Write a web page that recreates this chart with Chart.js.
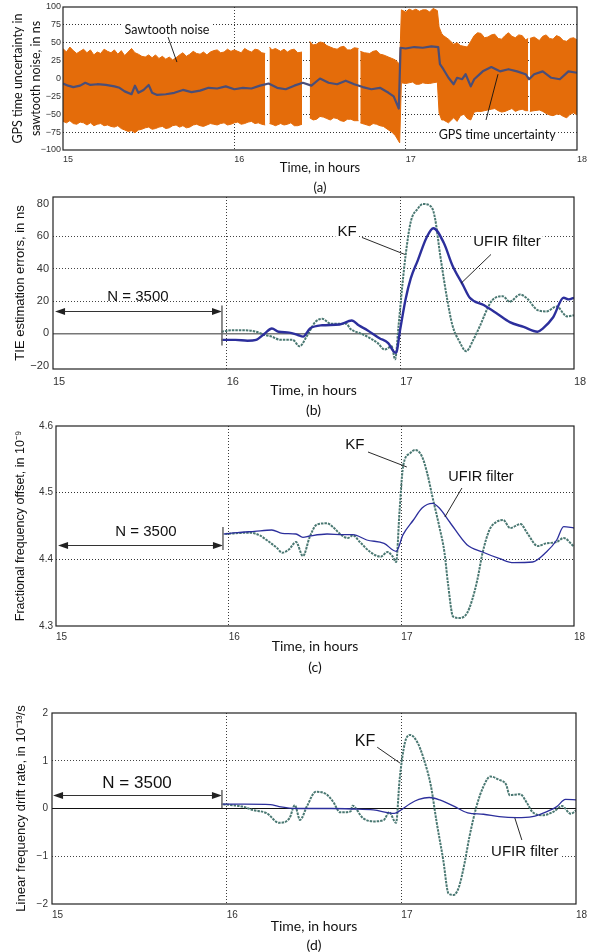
<!DOCTYPE html>
<html>
<head>
<meta charset="utf-8">
<script src="https://cdn.jsdelivr.net/npm/chart.js@4.4.1/dist/chart.umd.min.js"></script>
<style>
  html, body { margin: 0; padding: 0; background: #fff; }
  #wrap { position: relative; width: 590px; height: 952px; overflow: hidden; }
  #wrap canvas { position: absolute; left: 0; top: 0; }
</style>
</head>
<body>
<div id="wrap">
  <canvas id="chartA" width="590" height="952"></canvas>
  <canvas id="chartB" width="590" height="952"></canvas>
  <canvas id="chartC" width="590" height="952"></canvas>
  <canvas id="chartD" width="590" height="952"></canvas>
</div>
<script>
// ---- tick labels ----
const xTicks = [15, 16, 17, 18];
const aYTicks = [-100, -75, -50, -25, 0, 25, 50, 75, 100];
const bYTicks = [-20, 0, 20, 40, 60, 80];
const cYTicks = [4.3, 4.4, 4.5, 4.6];
const dYTicks = [-2, -1, 0, 1, 2];

// ---- (a) sawtooth noise envelope and GPS time uncertainty, ns ----
const aBandT  = [15.00, 15.02, 15.04, 15.06, 15.08, 15.10, 15.12, 15.14, 15.16, 15.18, 15.20, 15.22, 15.24, 15.26, 15.28, 15.30, 15.32, 15.34, 15.36, 15.38, 15.40, 15.42, 15.44, 15.46, 15.48, 15.50, 15.52, 15.54, 15.56, 15.58, 15.60, 15.62, 15.64, 15.66, 15.68, 15.70, 15.72, 15.74, 15.76, 15.78, 15.80, 15.82, 15.84, 15.86, 15.88, 15.90, 15.92, 15.94, 15.96, 15.98, 16.00, 16.02, 16.04, 16.06, 16.08, 16.10, 16.12, 16.14, 16.16, 16.18, 16.195, 16.205, 16.22, 16.24, 16.27, 16.29, 16.31, 16.33, 16.35, 16.37, 16.395, 16.42, 16.44, 16.46, 16.48, 16.50, 16.52, 16.54, 16.56, 16.58, 16.60, 16.62, 16.64, 16.66, 16.68, 16.70, 16.725, 16.73, 16.735, 16.76, 16.79, 16.81, 16.83, 16.85, 16.87, 16.90, 16.92, 16.94, 16.965, 16.975, 17.00, 17.02, 17.04, 17.06, 17.08, 17.10, 17.12, 17.14, 17.16, 17.185, 17.195, 17.21, 17.22, 17.25, 17.28, 17.30, 17.32, 17.34, 17.36, 17.38, 17.40, 17.42, 17.44, 17.46, 17.48, 17.50, 17.52, 17.54, 17.56, 17.58, 17.60, 17.62, 17.64, 17.66, 17.68, 17.70, 17.715, 17.72, 17.725, 17.75, 17.78, 17.80, 17.82, 17.84, 17.86, 17.88, 17.90, 17.92, 17.94, 17.96, 17.98, 18.00];
const aBandHi = [42, 37, 44, 39, 35, 38, 41, 36, 40, 33, 37, 35, 41, 38, 36, 40, 34, 39, 32, 37, 42, 36, 34, 31, 30, 33, 29, 33, 28, 31, 27, 30, 26, 29, 33, 36, 31, 34, 38, 35, 34, 37, 33, 37, 39, 40, 36, 37, 41, 38, 40, 38, 36, 42, 39, 37, 41, 40, 36, 35, null, 44, 40, 42, 38, 41, 37, 40, 41, 36, 37, null, 52, 47, 48, 51, 50, 46, 44, 42, 41, 44, 45, 40, 40, 43, 42, null, 38, 36, 35, 38, 39, 34, 33, 30, 28, 26, 20, 96, 93, 97, 95, 97, 94, 96, 96, 93, 98, 95, 72, 63, 60, 55, 48, 50, 46, 45, 44, 52, 60, 64, 63, 57, 58, 61, 62, 56, 55, 60, 64, 59, 57, 61, 60, 54, 56, null, 56, 58, 53, 59, 61, 56, 55, 60, 58, 53, 52, 56, 57, 54];
const aBandLo = [-60, -62, -59, -63, -64, -61, -62, -65, -62, -66, -64, -63, -66, -65, -67, -68, -66, -70, -72, -74, -73, -76, -72, -71, -69, -68, -71, -70, -68, -67, -70, -69, -66, -65, -68, -66, -69, -68, -65, -64, -66, -67, -65, -63, -64, -65, -63, -62, -65, -64, -62, -61, -64, -63, -61, -60, -63, -62, -64, -65, null, -63, -64, -66, -63, -65, -64, -62, -66, -66, -64, null, -55, -58, -57, -53, -54, -56, -58, -55, -56, -59, -60, -57, -57, -59, -59, null, -62, -64, -66, -63, -64, -66, -67, -72, -75, -80, -90, -6, -7, -6, -5, -8, -8, -6, -7, -7, -6, -5, -48, -58, -58, -62, -55, -60, -52, -50, -56, -58, -47, -46, -46, -45, -44, -43, -42, -45, -47, -46, -44, -42, -46, -44, -43, -45, -45, null, -46, -45, -44, -46, -49, -51, -52, -50, -50, -53, -55, -50, -48, -51];
const aMeanT = [15.00, 15.03, 15.06, 15.10, 15.13, 15.16, 15.20, 15.25, 15.30, 15.33, 15.36, 15.40, 15.42, 15.44, 15.47, 15.50, 15.52, 15.55, 15.60, 15.65, 15.70, 15.75, 15.80, 15.85, 15.90, 15.95, 16.00, 16.05, 16.10, 16.15, 16.20, 16.25, 16.30, 16.35, 16.40, 16.45, 16.50, 16.55, 16.60, 16.65, 16.70, 16.75, 16.80, 16.85, 16.90, 16.93, 16.96, 16.97, 17.00, 17.05, 17.10, 17.15, 17.19, 17.20, 17.22, 17.25, 17.28, 17.30, 17.33, 17.35, 17.38, 17.40, 17.45, 17.50, 17.55, 17.60, 17.65, 17.70, 17.72, 17.75, 17.80, 17.85, 17.90, 17.95, 18.00];
const aMean  = [-7, -10, -12, -10, -6, -9, -8, -9, -11, -13, -18, -22, -10, -20, -16, -9, -20, -23, -22, -20, -16, -19, -17, -13, -14, -11, -15, -13, -14, -10, -7, -13, -15, -10, -6, -10, 0, -6, -8, -3, -8, -12, -15, -13, -20, -25, -42, 43, 42, 44, 43, 45, 44, 20, 13, 1, -8, 1, -1, 6, -11, -1, 10, 16, 10, 13, 10, 6, -1, 6, 10, 1, -1, 10, 8];

// ---- (b) TIE estimation errors, ns ----
const bUfirT = [15.97, 16.05, 16.12, 16.17, 16.22, 16.26, 16.30, 16.36, 16.41, 16.44, 16.48, 16.55, 16.65, 16.72, 16.76, 16.81, 16.88, 16.93, 16.96, 16.975, 17.00, 17.03, 17.06, 17.10, 17.15, 17.19, 17.25, 17.30, 17.36, 17.40, 17.48, 17.56, 17.63, 17.71, 17.79, 17.82, 17.88, 17.94, 17.97, 18.00];
const bUfir  = [-4, -4, -4.5, -4, 0, 3, 1, 0.5, -1, -2, 3, 5, 5.5, 8, 5, 2, -3, -6, -11, -12, 3, 21, 34, 45, 59, 65, 56, 42, 30, 22, 17.5, 12, 7, 4, 1, 3, 10, 22, 21, 22];
const bKfT = [15.97, 16.03, 16.10, 16.17, 16.22, 16.26, 16.31, 16.38, 16.42, 16.46, 16.51, 16.55, 16.60, 16.69, 16.71, 16.77, 16.81, 16.87, 16.91, 16.95, 16.97, 16.99, 17.01, 17.03, 17.06, 17.10, 17.13, 17.18, 17.20, 17.23, 17.27, 17.30, 17.34, 17.38, 17.42, 17.46, 17.50, 17.53, 17.59, 17.63, 17.69, 17.73, 17.79, 17.84, 17.90, 17.96, 18.00];
const bKf  = [1, 2, 2, 1, -1, -2, -4, -4, -8, -2, 7, 9, 6, 6, 3, 0, -2, -6, -10, -8, -16, 5, 28, 48, 69, 77, 80, 78, 71, 48, 21, 5, -5, -11, -4, 5, 15, 20.6, 23, 19.6, 24, 21.6, 14.4, 13.6, 16.6, 10.5, 11.3];

// ---- (c) fractional frequency offset, 1e-9 ----
const cUfirT = [15.97, 16.05, 16.15, 16.25, 16.31, 16.39, 16.43, 16.47, 16.57, 16.66, 16.72, 16.80, 16.90, 16.97, 17.01, 17.07, 17.12, 17.18, 17.22, 17.28, 17.38, 17.47, 17.57, 17.65, 17.76, 17.84, 17.90, 17.94, 18.00];
const cUfir  = [4.438, 4.440, 4.442, 4.444, 4.439, 4.438, 4.433, 4.435, 4.438, 4.437, 4.437, 4.429, 4.424, 4.412, 4.437, 4.459, 4.477, 4.484, 4.477, 4.456, 4.422, 4.411, 4.401, 4.395, 4.396, 4.411, 4.429, 4.449, 4.447];
const cKfT = [15.98, 16.12, 16.18, 16.22, 16.28, 16.31, 16.35, 16.39, 16.43, 16.47, 16.51, 16.57, 16.61, 16.65, 16.69, 16.72, 16.76, 16.82, 16.88, 16.92, 16.95, 16.97, 16.99, 17.01, 17.05, 17.08, 17.12, 17.15, 17.18, 17.22, 17.25, 17.27, 17.30, 17.34, 17.38, 17.41, 17.44, 17.47, 17.51, 17.55, 17.59, 17.63, 17.69, 17.73, 17.79, 17.84, 17.90, 17.94, 18.00];
const cKf  = [4.438, 4.440, 4.436, 4.429, 4.417, 4.410, 4.415, 4.426, 4.405, 4.434, 4.452, 4.454, 4.447, 4.437, 4.432, 4.436, 4.426, 4.411, 4.404, 4.411, 4.404, 4.396, 4.474, 4.539, 4.559, 4.564, 4.554, 4.529, 4.494, 4.449, 4.410, 4.364, 4.314, 4.312, 4.319, 4.339, 4.369, 4.409, 4.444, 4.456, 4.459, 4.447, 4.453, 4.439, 4.420, 4.424, 4.426, 4.432, 4.419];

// ---- (d) linear frequency drift rate, 1e-13/s ----
const dUfirT = [15.97, 16.10, 16.25, 16.30, 16.40, 16.60, 16.72, 16.84, 16.96, 16.99, 17.05, 17.10, 17.16, 17.22, 17.30, 17.38, 17.47, 17.56, 17.66, 17.75, 17.83, 17.89, 17.94, 18.00];
const dUfir  = [0.09, 0.09, 0.08, 0.04, 0.0, 0.0, -0.01, -0.03, -0.10, -0.05, 0.10, 0.19, 0.23, 0.18, 0.05, -0.09, -0.12, -0.17, -0.19, -0.17, -0.07, 0.04, 0.19, 0.18];
const dKfT = [15.98, 16.09, 16.15, 16.23, 16.30, 16.36, 16.39, 16.42, 16.46, 16.51, 16.57, 16.61, 16.65, 16.71, 16.72, 16.78, 16.84, 16.90, 16.93, 16.97, 16.99, 17.02, 17.05, 17.09, 17.13, 17.17, 17.20, 17.24, 17.27, 17.30, 17.33, 17.36, 17.39, 17.43, 17.47, 17.51, 17.56, 17.60, 17.62, 17.68, 17.72, 17.75, 17.81, 17.87, 17.92, 17.97, 18.00];
const dKf  = [0.09, 0.04, -0.03, -0.10, -0.30, -0.20, 0.07, -0.24, 0.05, 0.35, 0.30, 0.14, -0.08, -0.06, 0.06, -0.20, -0.27, -0.24, -0.08, -0.30, 0.60, 1.37, 1.54, 1.40, 1.02, 0.46, -0.24, -1.08, -1.78, -1.81, -1.64, -1.18, -0.59, 0.04, 0.46, 0.67, 0.60, 0.50, 0.28, 0.30, 0.11, -0.07, -0.14, -0.07, 0.05, -0.11, -0.04];

// ---- colours ----
const ORANGE = '#e46c0a';
const SLATE = '#4a4e78';
const UFIR = '#2c2f9c';
const KF = '#4a7872';

const W = 590, H = 952;
const toPts = (xs, ys) => xs.map((x, i) => ({ x: x, y: ys[i] }));
const minus = v => String(v).replace('-', '\u2212');
const tv = c => (c.tick ? c.tick.value : null);
const CLEAR = 'rgba(0,0,0,0)';

// Frame, labels, leader lines and the N = 3500 span arrow
const marksPlugin = {
  id: 'marks',
  afterDatasetsDraw(chart, args, opts) {
    const { ctx, chartArea: a, scales: { x, y } } = chart;
    ctx.save();

    if (opts.span) {
      const s = opts.span;
      const x1 = x.getPixelForValue(s.t1), x2 = x.getPixelForValue(s.t2);
      const yy = Math.round(y.getPixelForValue(s.v)) + 0.5;
      ctx.strokeStyle = '#333';
      ctx.fillStyle = '#222';
      ctx.lineWidth = 1;
      ctx.beginPath(); ctx.moveTo(x1 + 4, yy); ctx.lineTo(x2 - 4, yy); ctx.stroke();
      [[x1, 1], [x2, -1]].forEach(([px, dir]) => {
        ctx.beginPath();
        ctx.moveTo(px, yy);
        ctx.lineTo(px + dir * 10, yy - 3.5);
        ctx.lineTo(px + dir * 10, yy + 3.5);
        ctx.closePath();
        ctx.fill();
      });
      ctx.strokeStyle = '#666';
      ctx.lineWidth = 1.5;
      ctx.beginPath();
      ctx.moveTo(x2, y.getPixelForValue(s.barTop));
      ctx.lineTo(x2, y.getPixelForValue(s.barBottom));
      ctx.stroke();
    }

    ctx.strokeStyle = '#111';
    ctx.lineWidth = 0.9;
    (opts.leaders || []).forEach(([t1, v1, t2, v2]) => {
      ctx.beginPath();
      ctx.moveTo(x.getPixelForValue(t1), y.getPixelForValue(v1));
      ctx.lineTo(x.getPixelForValue(t2), y.getPixelForValue(v2));
      ctx.stroke();
    });

    (opts.notes || []).forEach(n => {
      const px = x.getPixelForValue(n.t), py = y.getPixelForValue(n.v);
      ctx.font = n.font;
      ctx.textAlign = 'center';
      ctx.textBaseline = 'middle';
      if (n.bg) {
        const w = ctx.measureText(n.text).width;
        ctx.fillStyle = '#fff';
        ctx.fillRect(px - w / 2 - 2, py - n.h / 2, w + 4, n.h);
      }
      ctx.fillStyle = '#111';
      ctx.fillText(n.text, px, py);
    });

    ctx.strokeStyle = '#222';
    ctx.lineWidth = 1.2;
    ctx.strokeRect(a.left, a.top, a.right - a.left, a.bottom - a.top);
    ctx.restore();
  }
};

function makePanel(id, p) {
  const box = p.box;
  return new Chart(document.getElementById(id), {
    type: 'line',
    data: { datasets: p.datasets },
    plugins: [marksPlugin],
    options: {
      responsive: false,
      animation: false,
      events: [],
      layout: { padding: { left: 0, top: box.top, right: W - box.right, bottom: H - box.bottom - p.xH } },
      plugins: { legend: { display: false }, tooltip: { enabled: false }, marks: p.marks },
      elements: { point: { radius: 0 }, line: { borderJoinStyle: 'round', borderCapStyle: 'butt' } },
      scales: {
        x: {
          type: 'linear', min: 15, max: 18,
          afterBuildTicks: s => { s.ticks = xTicks.map(v => ({ value: v })); },
          afterFit: s => { s.height = p.xH; s.paddingLeft = 0; s.paddingRight = 0; },
          grid: { drawTicks: false, color: c => (tv(c) === 15 || tv(c) === 18) ? CLEAR : '#3a3a3a' },
          border: { display: false, dash: [1, 2] },
          ticks: { align: 'start', padding: p.xTickPad, font: p.tickFont, color: '#333', maxRotation: 0, autoSkip: false },
          title: { display: true, text: ['Time, in hours', p.caption], font: p.capFont, color: '#111', padding: { top: 0, bottom: p.capPad } }
        },
        y: {
          min: p.yMin, max: p.yMax,
          afterBuildTicks: s => { s.ticks = p.yTicks.map(v => ({ value: v })); },
          afterFit: s => { s.width = box.left; s.paddingTop = 0; s.paddingBottom = 0; },
          grid: { drawTicks: false, color: p.gridColor, lineWidth: p.gridWidth || 1 },
          border: { display: false, dash: p.gridDash || [1, 2] },
          ticks: { padding: p.yTickPad, font: p.tickFont, color: '#333', callback: v => minus(v) },
          title: { display: true, text: p.yTitle, font: p.yTitleFont, color: '#111', padding: { top: p.yTitlePad, bottom: 0 } }
        }
      }
    }
  });
}

const capFont = (lh) => ({ family: 'Lato', size: 14, lineHeight: lh + 'px' });
const kfLine = { borderColor: KF, borderWidth: 2, borderDash: [2.5, 1], cubicInterpolationMode: 'monotone', order: 1 };

// (a)
makePanel('chartA', {
  box: { left: 63, right: 577, top: 7, bottom: 150 },
  xH: 48, capPad: 0, caption: '(a)', capFont: { family: 'Lato', size: 13, lineHeight: '20px' },
  yMin: -100, yMax: 100, yTicks: aYTicks,
  tickFont: { size: 9 }, xTickPad: 4, yTickPad: 2,
  gridColor: c => (tv(c) === -100 || tv(c) === 100) ? CLEAR : '#333',
  yTitle: ['GPS time uncertainty in', 'sawtooth noise, in ns'],
  yTitleFont: { family: 'Lato', size: 12.5, lineHeight: '18px' }, yTitlePad: 9,
  datasets: [
    { data: toPts(aMeanT, aMean), borderColor: SLATE, borderWidth: 2.2, order: 0 },
    { data: toPts(aBandT, aBandHi), borderColor: ORANGE, backgroundColor: ORANGE, borderWidth: 1, fill: '+1', order: 1 },
    { data: toPts(aBandT, aBandLo), borderColor: ORANGE, borderWidth: 1, fill: false, order: 2 }
  ],
  marks: {
    notes: [
      { text: 'Sawtooth noise', t: 15.607, v: 68.5, font: '12.5px Lato', bg: true, h: 14 },
      { text: 'GPS time uncertainty', t: 17.534, v: -79, font: '12.5px Lato', bg: true, h: 14 }
    ],
    leaders: [[15.613, 58, 15.665, 23], [17.469, -58, 17.539, 6]]
  }
});

// (b)
makePanel('chartB', {
  box: { left: 53, right: 574, top: 197, bottom: 369 },
  xH: 51, capPad: 0, caption: '(b)', capFont: capFont(20),
  yMin: -22, yMax: 84.3, yTicks: bYTicks,
  tickFont: { size: 11 }, xTickPad: 6, yTickPad: 4,
  gridColor: c => (tv(c) === -20 || tv(c) === 80) ? CLEAR : (tv(c) === 0 ? '#777' : '#444'),
  gridWidth: c => (tv(c) === 0 ? 1.5 : 1),
  gridDash: c => (tv(c) === 0 ? [] : [1, 2]),
  yTitle: 'TIE estimation errors, in ns',
  yTitleFont: { size: 13, lineHeight: '16px' }, yTitlePad: 12,
  datasets: [
    { data: toPts(bUfirT, bUfir), borderColor: UFIR, borderWidth: 2.4, cubicInterpolationMode: 'monotone', order: 0 },
    Object.assign({ data: toPts(bKfT, bKf) }, kfLine)
  ],
  marks: {
    notes: [
      { text: 'KF', t: 16.693, v: 63, font: '15px "Liberation Sans"', bg: true, h: 16 },
      { text: 'UFIR filter', t: 17.614, v: 56.8, font: '15px "Liberation Sans"', bg: true, h: 16 },
      { text: 'N = 3500', t: 15.489, v: 22.8, font: '15px "Liberation Sans"', bg: false }
    ],
    leaders: [[16.779, 59.3, 17.026, 48.8], [17.522, 48.8, 17.349, 30.9]],
    span: { t1: 15.012, t2: 15.973, v: 13.6, barTop: 17.3, barBottom: -7.4 }
  }
});

// (c)
makePanel('chartC', {
  box: { left: 56, right: 574, top: 426, bottom: 626 },
  xH: 52, capPad: 0, caption: '(c)', capFont: capFont(21),
  yMin: 4.3, yMax: 4.6, yTicks: cYTicks,
  tickFont: { size: 10 }, xTickPad: 5, yTickPad: 3,
  gridColor: c => (tv(c) === 4.3 || tv(c) === 4.6) ? CLEAR : '#333',
  yTitle: 'Fractional frequency offset, in 10\u207B\u2079',
  yTitleFont: { size: 12.5, lineHeight: '16px' }, yTitlePad: 13,
  datasets: [
    { data: toPts(cUfirT, cUfir), borderColor: UFIR, borderWidth: 1.3, cubicInterpolationMode: 'monotone', order: 0 },
    Object.assign({ data: toPts(cKfT, cKf) }, kfLine)
  ],
  marks: {
    notes: [
      { text: 'KF', t: 16.731, v: 4.5715, font: '15px "Liberation Sans"', bg: true, h: 16 },
      { text: 'UFIR filter', t: 17.461, v: 4.5235, font: '14.5px "Liberation Sans"', bg: true, h: 16 },
      { text: 'N = 3500', t: 15.521, v: 4.441, font: '15px "Liberation Sans"', bg: false }
    ],
    leaders: [[16.807, 4.561, 17.032, 4.5385], [17.351, 4.507, 17.252, 4.4635]],
    span: { t1: 15.012, t2: 15.967, v: 4.4215, barTop: 4.4485, barBottom: 4.414 }
  }
});

// (d)
makePanel('chartD', {
  box: { left: 52, right: 576, top: 713, bottom: 904 },
  xH: 48, capPad: -2.5, caption: '(d)', capFont: capFont(19),
  yMin: -2, yMax: 2, yTicks: dYTicks,
  tickFont: { size: 10 }, xTickPad: 5, yTickPad: 4,
  gridColor: c => (tv(c) === -2 || tv(c) === 2) ? CLEAR : (tv(c) === 0 ? '#111' : '#444'),
  gridDash: c => (tv(c) === 0 ? [] : [1, 2]),
  yTitle: 'Linear frequency drift rate, in 10\u207B\u00B9\u00B3/s',
  yTitleFont: { size: 13, lineHeight: '16px' }, yTitlePad: 13,
  datasets: [
    { data: toPts(dUfirT, dUfir), borderColor: UFIR, borderWidth: 1.3, cubicInterpolationMode: 'monotone', order: 0 },
    Object.assign({ data: toPts(dKfT, dKf) }, kfLine)
  ],
  marks: {
    notes: [
      { text: 'KF', t: 16.792, v: 1.393, font: '16px "Liberation Sans"', bg: true, h: 17 },
      { text: 'UFIR filter', t: 17.707, v: -0.911, font: '15px "Liberation Sans"', bg: true, h: 16 },
      { text: 'N = 3500', t: 15.487, v: 0.534, font: '17px "Liberation Sans"', bg: false }
    ],
    leaders: [[16.86, 1.288, 16.992, 0.953], [17.69, -0.66, 17.65, -0.2]],
    span: { t1: 15.006, t2: 15.973, v: 0.283, barTop: 0.387, barBottom: 0.01 }
  }
});
</script>
</body>
</html>
